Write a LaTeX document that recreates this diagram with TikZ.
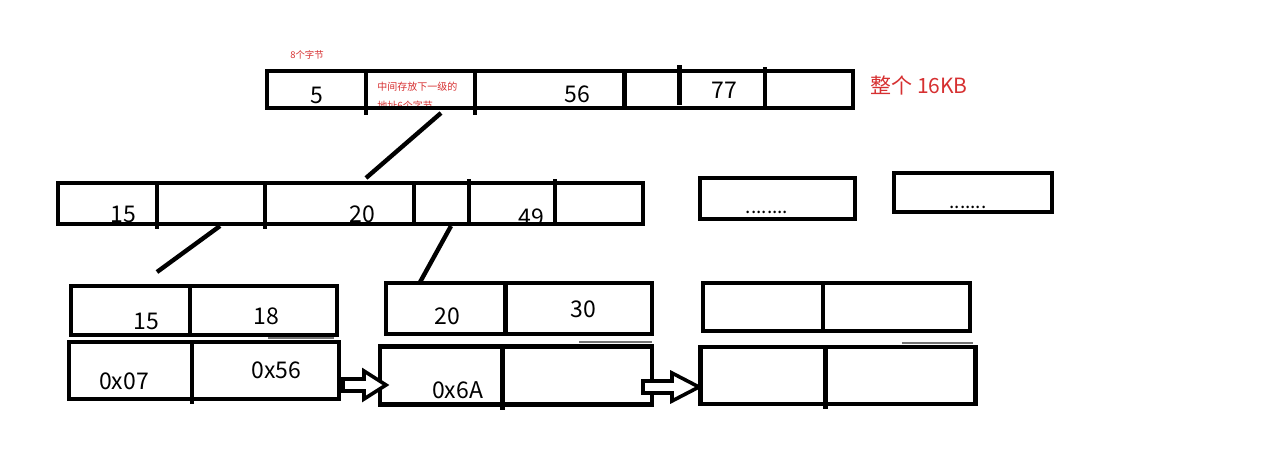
\documentclass[tikz,border=0pt]{standalone}
\usepackage{fontspec}
\setmainfont{Noto Sans CJK SC}
\definecolor{notered}{RGB}{214,48,49}
\begin{document}
\begin{tikzpicture}[x=0.5pt,y=-0.5pt,
  box/.style={draw, line width=2.3pt, inner sep=0pt, outer sep=0pt},
  divider/.style={line width=2.3pt},
  link/.style={line width=2.2pt},
  num/.style={font=\fontsize{11.5}{12}\selectfont, anchor=base, inner sep=0pt},
  dots/.style={font=\fontsize{9.5}{10}\selectfont, anchor=base, inner sep=0pt},
  note/.style={text=notered, inner sep=0pt},
  hollow/.style={draw, line width=1.8pt, fill=white, line join=miter},
  faint/.style={line width=0.7pt, black!55}]
\useasboundingbox (0,0) rectangle (1286,466);

% ---------- texts (drawn first so box edges overlap them) ----------
\node[note, font=\fontsize{4.7}{5}\selectfont] (t8) at (307,55) {8个字节};
\node[note, font=\fontsize{5}{6}\selectfont, anchor=west] (tmid1) at (377,87) {中间存放下一级的};
\node[note, font=\fontsize{5}{6}\selectfont, anchor=west] (tmid2) at (377,106) {地址6个字节};
\node[note, font=\fontsize{10.5}{12}\selectfont] (t16) at (919,85) {整个 16KB};

\node[num] (n5) at (317,103) {5};
\node[num] (n56) at (577.5,102) {56};
\node[num] (n77) at (724,98) {77};

\node[num] (m15) at (123.5,222) {15};
\node[num] (m20) at (362.5,222) {20};
\node[num] (m49) at (531.5,225.5) {49};

\node[num] (l15) at (146.5,329) {15};
\node[num] (l18) at (266.5,324) {18};
\node[num] (l07) at (124,389) {0x07};
\node[num] (l56) at (276.5,378) {0x56};

\node[num] (r20) at (447,324) {20};
\node[num] (r30) at (583,317) {30};
\node[num] (r6a) at (457.5,398) {0x6A};

\node[dots] (d1) at (767,213) {........};
\node[dots] (d2) at (968,208) {.......};

% ---------- boxes ----------
\node[box, minimum width=293pt, minimum height=18.5pt] (top) at (560,89.5) {};
\node[box, minimum width=292.5pt, minimum height=20.5pt] (mid) at (350.5,203.5) {};
\node[box, minimum width=77.5pt, minimum height=20.5pt] (dotsA) at (777.5,198.5) {};
\node[box, minimum width=79pt, minimum height=19.5pt] (dotsB) at (973,192.5) {};

\node[box, minimum width=133pt, minimum height=24.5pt] (ltop) at (204,310.5) {};
\node[box, minimum width=135pt, minimum height=28.5pt] (lbot) at (204,370.5) {};
\node[box, minimum width=133pt, minimum height=25.5pt] (mtop) at (519,308.5) {};
\node[box, minimum width=136pt, minimum height=29pt] (mbot) at (516,375.5) {};
\node[box, minimum width=133.5pt, minimum height=24pt] (rtop) at (836.5,307) {};
\node[box, minimum width=137.5pt, minimum height=28.5pt] (rbot) at (838,375.5) {};

% ---------- dividers ----------
\draw[divider] (366,71) -- (366,115);
\draw[divider] (475,71) -- (475,115);
\draw[divider] (624.5,71) -- (624.5,108);
\draw[divider] (679.5,65) -- (679.5,105);
\draw[divider] (765,67) -- (765,108);

\draw[divider] (157,183) -- (157,229);
\draw[divider] (265,183) -- (265,229);
\draw[divider] (414,183) -- (414,224);
\draw[divider] (469,179) -- (469,224);
\draw[divider] (555,179) -- (555,224);

\draw[divider] (190,286) -- (190,335);
\draw[divider] (192,342) -- (192,404);
\draw[divider] (505.5,283) -- (505.5,334);
\draw[divider] (502.5,346.5) -- (502.5,410);
\draw[divider] (823,283) -- (823,331);
\draw[divider] (825.5,347) -- (825.5,409);

% faint doubled edges
\draw[faint] (268,338) -- (334,338);
\draw[faint] (579,342) -- (652,342);
\draw[faint] (902,343) -- (973,343);

% ---------- connectors ----------
\coordinate (c1a) at (441,113);
\coordinate (c1b) at (366,178);
\coordinate (c2a) at (220,226);
\coordinate (c2b) at (157,272);
\coordinate (c3a) at (451,226);
\coordinate (c3b) at (419,284);
\draw[link] (c1a) -- (c1b);
\draw[link] (c2a) -- (c2b);
\draw[link] (c3a) -- (c3b);

% ---------- hollow arrows between leaf pages ----------
\coordinate (a1) at (343,385);
\coordinate (a2) at (643,387);
\draw[hollow] (a1) ++(0,-6) -- ++(21,0) -- ++(0,-8) -- ++(22,14) -- ++(-22,14) -- ++(0,-8) -- ++(-21,0) -- cycle;
\draw[hollow] (a2) ++(0,-6) -- ++(29,0) -- ++(0,-8) -- ++(27,14) -- ++(-27,14) -- ++(0,-8) -- ++(-29,0) -- cycle;
\end{tikzpicture}
\end{document}
